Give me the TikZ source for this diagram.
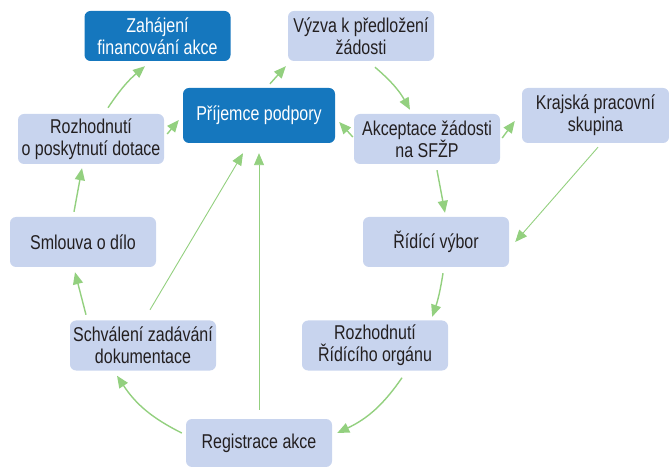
\documentclass[tikz,border=0pt]{standalone}
\usepackage{fontspec}
\setmainfont[FakeStretch=0.8]{Liberation Sans}
\usetikzlibrary{arrows.meta}
\definecolor{darkbox}{HTML}{1577BE}
\definecolor{lightbox}{HTML}{C8D4EE}
\definecolor{arrowgreen}{HTML}{93D07F}
\definecolor{textdark}{HTML}{231F20}
\tikzset{
  box/.style={rounded corners=6pt, minimum width=146pt, minimum height=50pt, inner sep=0pt,
    align=center, font=\fontsize{20pt}{22pt}\selectfont, text=textdark, fill=lightbox},
  darkstyle/.style={box, fill=darkbox, text=white},
  conn/.style={draw=arrowgreen, line width=1.4pt, -{Triangle[length=12pt,width=10pt]}},
  thinconn/.style={conn, line width=0.9pt}
}
\begin{document}
\begin{tikzpicture}[x=1pt,y=1pt]
\useasboundingbox (0,0) rectangle (669,466);
\node[darkstyle] (zah) at (157.5,430) {Zahájení\\financování akce};
\node[box] (vyz) at (361,430) {Výzva k předložení\\žádosti};
\node[darkstyle, minimum width=152pt, minimum height=55pt] (pri) at (259,350.5) {Příjemce podpory};
\node[box] (roz1) at (91,327) {Rozhodnutí\\o poskytnutí dotace};
\node[box] (akc) at (427,327) {Akceptace žádosti\\na SFŽP};
\node[box, minimum width=147pt, minimum height=55pt] (kra) at (595.5,350.5) {Krajská pracovní\\skupina};
\node[box] (sml) at (83,224) {Smlouva o dílo};
\node[box] (rid) at (436,224) {Řídící výbor};
\node[box] (sch) at (143,120.5) {Schválení zadávání\\dokumentace};
\node[box] (roz2) at (375,120.5) {Rozhodnutí\\Řídícího orgánu};
\node[box, minimum height=48pt] (reg) at (259,23) {Registrace akce};

\draw[conn] ([xshift=17pt,yshift=6pt]roz1.north) to[bend left=8] ([xshift=-12.5pt,yshift=-5pt]zah.south);
\draw[conn] ([xshift=3pt,yshift=5pt]roz1.east) -- ([xshift=-4pt,yshift=-4.5pt]pri.west);
\draw[conn] ([xshift=11pt,yshift=4pt]pri.north) -- ([xshift=-2pt,yshift=-5pt]vyz.south west);
\draw[conn] ([xshift=14pt,yshift=-6pt]vyz.south) to[bend left=10] ([xshift=-17pt,yshift=4pt]akc.north);
\draw[conn] ([xshift=-1pt,yshift=2pt]akc.west) -- ([xshift=4pt,yshift=-6.5pt]pri.east);
\draw[conn] ([xshift=2pt,yshift=1pt]akc.east) -- ([xshift=-7pt,yshift=-5.5pt]kra.west);
\draw[conn] ([xshift=10pt,yshift=-6pt]akc.south) -- ([xshift=9pt,yshift=4pt]rid.north);
\draw[thinconn] ([xshift=2.5pt,yshift=-4pt]kra.south) -- ([xshift=6pt]rid.east);
\draw[conn] ([xshift=7pt,yshift=-6pt]rid.south) to[bend left=5] ([xshift=-16pt,yshift=3.5pt]roz2.north east);
\draw[conn] ([xshift=27pt,yshift=-7pt]roz2.south) to[bend left=15] ([xshift=5pt,yshift=10pt]reg.east);
\draw[conn] ([xshift=-4pt,yshift=10pt]reg.west) to[bend left=15] ([xshift=-26pt,yshift=-5pt]sch.south);
\draw[conn] ([xshift=-57pt,yshift=5.5pt]sch.north) -- ([xshift=-8pt,yshift=-5pt]sml.south);
\draw[conn] ([xshift=-9pt,yshift=5pt]sml.north) -- ([xshift=-9pt,yshift=-4pt]roz1.south);
\draw[thinconn] ([xshift=7pt,yshift=10.5pt]sch.north) -- ([xshift=-16pt,yshift=-10pt]pri.south);
\draw[thinconn] ([yshift=9pt]reg.north) -- ([yshift=-10pt]pri.south);
\end{tikzpicture}
\end{document}
